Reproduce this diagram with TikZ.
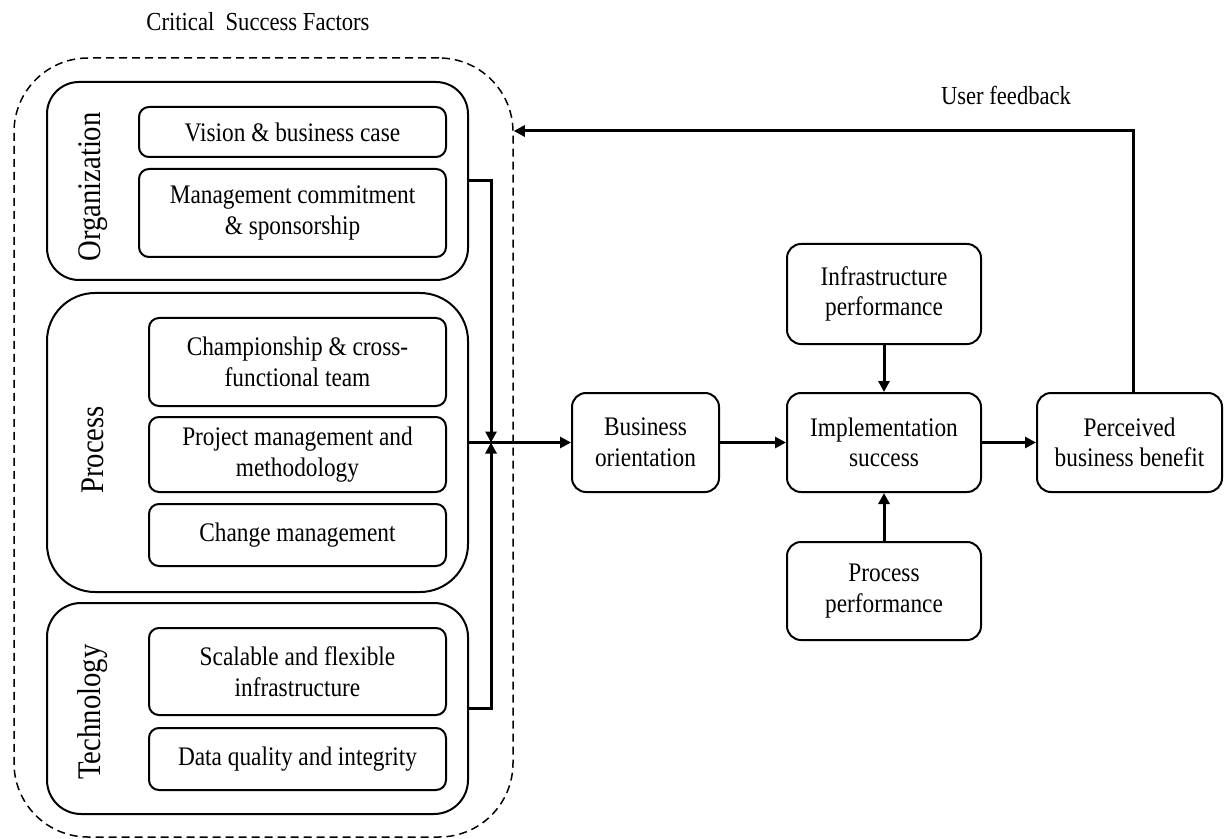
\documentclass[tikz,border=0pt]{standalone}
\usepackage{fontspec}
\setmainfont{Liberation Serif}[FakeStretch=0.87]
\usetikzlibrary{arrows.meta}

\begin{document}
\begin{tikzpicture}[x=0.5pt,y=-0.5pt,
  every node/.style={font=\fontsize{13.4}{15.3}\selectfont, align=center, inner sep=0pt},
  box/.style={draw, line width=1pt, rounded corners=5pt},
  group/.style={draw, line width=1pt},
  grouplabel/.style={rotate=90, font=\fontsize{16.5}{18}\selectfont},
  conn/.style={line width=1.5pt},
  arr/.style={conn, -{Triangle[length=5.5pt,width=5.5pt]}},
  plain/.style={font=\fontsize{13}{15}\selectfont}
]
\useasboundingbox (0,0) rectangle (1224,839);

% dashed frame around the critical success factors
\node[draw, dashed, dash pattern=on 4pt off 2.5pt, line width=0.75pt,
      rounded corners=37pt, minimum width=249.5pt, minimum height=389.5pt]
      (csf) at (263.5,447.5) {};
\node[plain] (csftitle) at (258,22) {Critical\ \ Success Factors};

% factor groups
\node[group, rounded corners=16pt, minimum width=210.5pt, minimum height=99pt]
      (org) at (257.5,181) {};
\node[group, rounded corners=24pt, minimum width=210.5pt, minimum height=149.5pt]
      (proc) at (257.5,442.5) {};
\node[group, rounded corners=17pt, minimum width=210.5pt, minimum height=105.5pt]
      (tech) at (257.5,708.5) {};

\node[grouplabel] (orglabel) at (93,187) {Organization};
\node[grouplabel] (proclabel) at (93,450) {Process};
\node[grouplabel] (techlabel) at (93,712) {Technology};

% individual factors
\node[box, minimum width=153.5pt, minimum height=25pt] (vision) at (292.5,132)
      {Vision \& business case};
\node[box, minimum width=153.5pt, minimum height=44pt] (mgmt) at (292.5,213)
      {Management commitment\\\& sponsorship};
\node[box, minimum width=148.5pt, minimum height=44pt] (champ) at (297.5,362)
      {Championship \& cross-\\functional team};
\node[box, minimum width=148.5pt, minimum height=37.5pt] (pm) at (297.5,454.5)
      {Project management and\\methodology};
\node[box, minimum width=148.5pt, minimum height=31pt] (change) at (297.5,535)
      {Change management};
\node[box, minimum width=148.5pt, minimum height=43.5pt] (scal) at (297.5,671.5)
      {Scalable and flexible\\infrastructure};
\node[box, minimum width=148.5pt, minimum height=31pt] (dq) at (297.5,759)
      {Data quality and integrity};

% outcome chain
\node[box, rounded corners=7pt, minimum width=73.5pt, minimum height=49.5pt]
      (bo) at (645.5,442.5) {Business\\orientation};
\node[box, rounded corners=7pt, minimum width=97pt, minimum height=49.5pt]
      (impl) at (884,442.5) {Implementation\\success};
\node[box, rounded corners=7pt, minimum width=97pt, minimum height=50pt]
      (infra) at (884,294) {Infrastructure\\performance};
\node[box, rounded corners=7pt, minimum width=97pt, minimum height=49pt]
      (pp) at (884,591) {Process\\performance};
\node[box, rounded corners=7pt, minimum width=92.5pt, minimum height=49.5pt]
      (pbb) at (1129.5,442.5) {Perceived\\business benefit};

\node[plain] (fblabel) at (1006,95) {User feedback};

% connectors
\coordinate (jn) at (491,442.5);
\coordinate (fbturn) at (1133,131);

\draw[arr] (org.east) -| (jn);
\draw[arr] (tech.east) -| (jn);
\draw[arr] (proc.east) -- (bo.west);
\draw[arr] (bo.east) -- (impl.west);
\draw[arr] (infra.south) -- (impl.north);
\draw[arr] (pp.north) -- (impl.south);
\draw[arr] (impl.east) -- (pbb.west);
\draw[arr] (pbb.north -| fbturn) -- (fbturn) -- (fbturn -| csf.east);
\end{tikzpicture}
\end{document}
